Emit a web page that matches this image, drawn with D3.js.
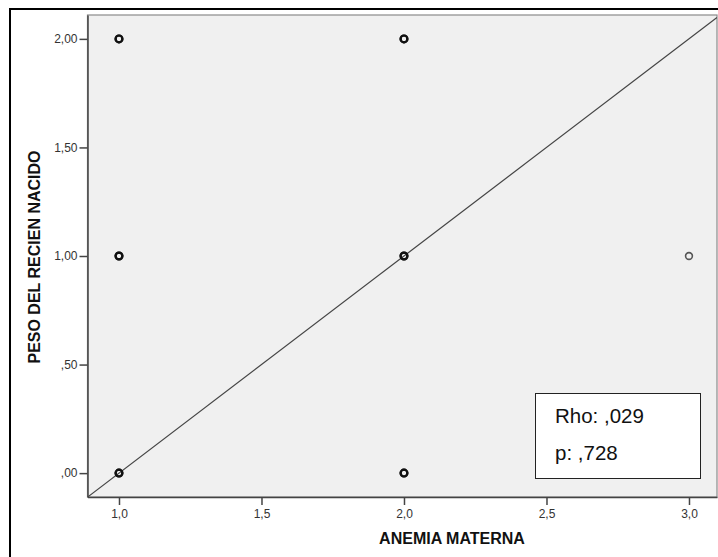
<!DOCTYPE html>
<html>
<head>
<meta charset="utf-8">
<script src="https://cdn.jsdelivr.net/npm/d3@7"></script>
<style>
  body { margin: 0; background: #fff; }
  svg { display: block; font-family: "Liberation Sans", Arial, sans-serif; }
</style>
</head>
<body>
<div id="mycontent"></div>
<script>
// datos (puntos repetidos = marcas superpuestas)
var anemia = [1, 1, 2, 2, 1, 1, 2, 2, 3, 1, 1, 2, 2];
var peso   = [2, 2, 2, 2, 1, 1, 1, 1, 1, 0, 0, 0, 0];
var xTicks = [1, 1.5, 2, 2.5, 3];
var xTickLabels = ["1,0", "1,5", "2,0", "2,5", "3,0"];
var yTicks = [0, 0.5, 1, 1.5, 2];
var yTickLabels = [",00", ",50", "1,00", "1,50", "2,00"];
var statLabels = ["Rho: ,029", "p: ,728"];

var W = 718, H = 557;
var plot = { left: 87.5, top: 15, right: 717, bottom: 497 };

var svg = d3.select("#mycontent").append("svg")
    .attr("width", W)
    .attr("height", H);

// marco exterior
svg.append("rect")
    .attr("x", 10).attr("y", 9)
    .attr("width", 730).attr("height", 570)
    .attr("fill", "#fff")
    .attr("stroke", "#000")
    .attr("stroke-width", 2);

var xScale = d3.scaleLinear()
    .domain([0.8895, 3.0983])
    .range([plot.left, plot.right]);

var yScale = d3.scaleLinear()
    .domain([-0.11, 2.11])
    .range([plot.bottom, plot.top]);

// fondo del area de trazado
svg.append("rect")
    .attr("x", plot.left).attr("y", plot.top)
    .attr("width", plot.right - plot.left)
    .attr("height", plot.bottom - plot.top)
    .attr("fill", "#f0f0f0")
    .attr("stroke", "#8a8a8a")
    .attr("stroke-width", 1.2);

svg.append("clipPath").attr("id", "clip")
    .append("rect")
    .attr("x", plot.left).attr("y", plot.top)
    .attr("width", plot.right - plot.left)
    .attr("height", plot.bottom - plot.top);

// ejes
var xAxis = svg.append("g")
    .attr("transform", "translate(0," + plot.bottom + ")")
    .call(d3.axisBottom(xScale)
        .tickValues(xTicks)
        .tickFormat(function (d, i) { return xTickLabels[i]; })
        .tickSize(8).tickSizeOuter(0).tickPadding(4));

var yAxis = svg.append("g")
    .attr("transform", "translate(" + plot.left + ",0)")
    .call(d3.axisLeft(yScale)
        .tickValues(yTicks)
        .tickFormat(function (d, i) { return yTickLabels[i]; })
        .tickSize(8).tickSizeOuter(0).tickPadding(2));

[xAxis, yAxis].forEach(function (ax) {
    ax.select(".domain").attr("stroke", "#444").attr("stroke-width", 1.5);
    ax.selectAll(".tick line").attr("stroke", "#444").attr("stroke-width", 1.5);
    ax.selectAll(".tick text")
        .attr("fill", "#333")
        .style("font-size", "12px")
        .style("font-family", "'Liberation Sans', Arial, sans-serif");
});

// linea de referencia y = x - 1
var line = d3.line()
    .x(function (d) { return xScale(d); })
    .y(function (d) { return yScale(d - 1); });

svg.append("path")
    .datum(xScale.domain())
    .attr("clip-path", "url(#clip)")
    .attr("d", line)
    .attr("fill", "none")
    .attr("stroke", "#444")
    .attr("stroke-width", 1.2);

// puntos: los repetidos salen mas oscuros y gruesos
var counts = d3.rollup(anemia.map(function (a, i) { return a + "|" + peso[i]; }),
    function (v) { return v.length; }, function (k) { return k; });

svg.append("g")
    .selectAll("circle")
    .data(anemia)
    .join("circle")
    .attr("cx", function (d) { return xScale(d); })
    .attr("cy", function (d, i) { return yScale(peso[i]); })
    .attr("r", 3.4)
    .attr("fill", "none")
    .attr("stroke", function (d, i) { return counts.get(d + "|" + peso[i]) > 1 ? "#111" : "#555"; })
    .attr("stroke-width", function (d, i) { return counts.get(d + "|" + peso[i]) > 1 ? 2.2 : 1.6; });

// cuadro de estadisticos
svg.append("rect")
    .attr("x", 535.5).attr("y", 393.5)
    .attr("width", 165).attr("height", 85)
    .attr("fill", "#fff")
    .attr("stroke", "#222")
    .attr("stroke-width", 1);

svg.selectAll(".stat")
    .data(statLabels)
    .join("text")
    .attr("class", "stat")
    .attr("x", 555)
    .attr("y", function (d, i) { return 423 + i * 37; })
    .attr("fill", "#111")
    .style("font-size", "20.5px")
    .text(function (d) { return d; });

// titulos
svg.append("text")
    .attr("x", 452).attr("y", 544)
    .attr("text-anchor", "middle")
    .style("font-size", "16px")
    .style("font-weight", "bold")
    .attr("fill", "#111")
    .text("ANEMIA MATERNA");

svg.append("text")
    .attr("transform", "translate(40," + 257 + ") rotate(-90)")
    .attr("text-anchor", "middle")
    .style("font-size", "16px")
    .style("font-weight", "bold")
    .attr("fill", "#111")
    .text("PESO DEL RECIEN NACIDO");
</script>
</body>
</html>
